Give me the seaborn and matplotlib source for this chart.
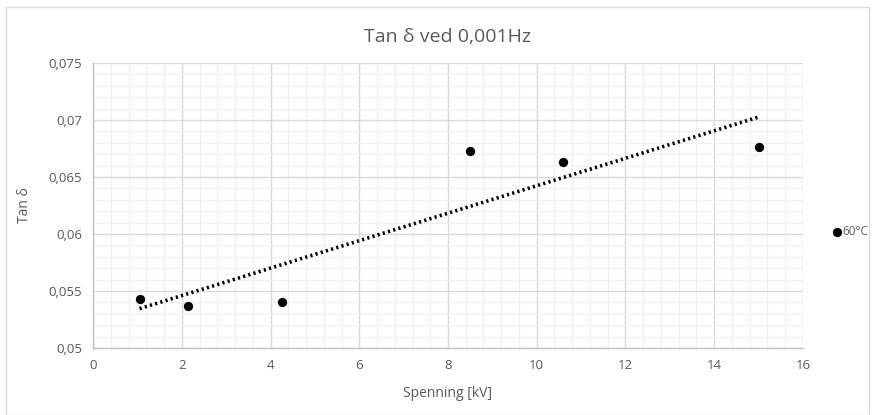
import matplotlib
matplotlib.use("Agg")
import matplotlib.pyplot as plt
import seaborn as sns
import numpy as np
import pandas as pd
from matplotlib.ticker import MultipleLocator, FuncFormatter
from matplotlib.patches import Rectangle

# Measured data
spenning_kv = [1.05, 2.13, 4.27, 8.5, 10.6, 15.0]
tan_delta = [0.0543, 0.0537, 0.0540, 0.0673, 0.0663, 0.0676]
series_label = "60°C"
title = "Tan δ ved 0,001Hz"
x_label = "Spenning [kV]"
y_label = "Tan δ"

df = pd.DataFrame({"kV": spenning_kv, "tan": tan_delta})

sns.set_theme(style="white")
plt.rcParams["font.family"] = ["Open Sans", "DejaVu Sans"]
text_color = "#595959"

fig = plt.figure(figsize=(8.75, 4.15), dpi=100)
ax = fig.add_axes([0.1063, 0.1614, 0.8114, 0.6866])

# Scatter points and linear trendline
sns.scatterplot(data=df, x="kV", y="tan", ax=ax, color="black", s=45,
                edgecolor="black", linewidth=0, zorder=4, label=series_label)
sns.regplot(data=df, x="kV", y="tan", ax=ax, ci=None, scatter=False,
            truncate=True,
            line_kws=dict(color="black", linewidth=2.6, linestyle=(0, (0.6, 0.9)),
                          dash_capstyle="butt", zorder=3))

ax.set_xlim(0, 16)
ax.set_ylim(0.05, 0.075)
ax.xaxis.set_major_locator(MultipleLocator(2))
ax.xaxis.set_minor_locator(MultipleLocator(0.4))
ax.yaxis.set_major_locator(MultipleLocator(0.005))
ax.yaxis.set_minor_locator(MultipleLocator(0.001))
ax.yaxis.set_major_formatter(FuncFormatter(lambda v, p: f"{v:.3f}".rstrip("0").replace(".", ",")))
ax.xaxis.set_major_formatter(FuncFormatter(lambda v, p: f"{v:g}"))

ax.grid(which="major", color="#d9d9d9", linewidth=1.0)
ax.grid(which="minor", color="#f0f0f0", linewidth=0.9)
ax.set_axisbelow(True)
for side in ["top", "right"]:
    ax.spines[side].set_visible(False)
for side in ["left", "bottom"]:
    ax.spines[side].set_color("#bfbfbf")
    ax.spines[side].set_linewidth(1.0)

ax.tick_params(axis="both", which="both", length=0, labelsize=9.5,
               labelcolor=text_color, pad=8)
ax.set_xlabel(x_label, fontsize=10, color=text_color, labelpad=10)
ax.set_ylabel(y_label, fontsize=10, color=text_color, labelpad=12)
ax.set_title(title, fontsize=14, color=text_color, pad=15)

leg = ax.legend(loc="center left", bbox_to_anchor=(1.041, 0.41), frameon=False,
                handletextpad=0.1, handlelength=0.8, borderpad=0, borderaxespad=0,
                fontsize=8.5, markerscale=1.0)
for t in leg.get_texts():
    t.set_color(text_color)

# Chart border
fig.patches.append(Rectangle((0.007, 0.0), 0.986, 0.983, transform=fig.transFigure,
                             fill=False, edgecolor="#d9d9d9", linewidth=1.0))

fig.savefig("out.png", dpi=100)
